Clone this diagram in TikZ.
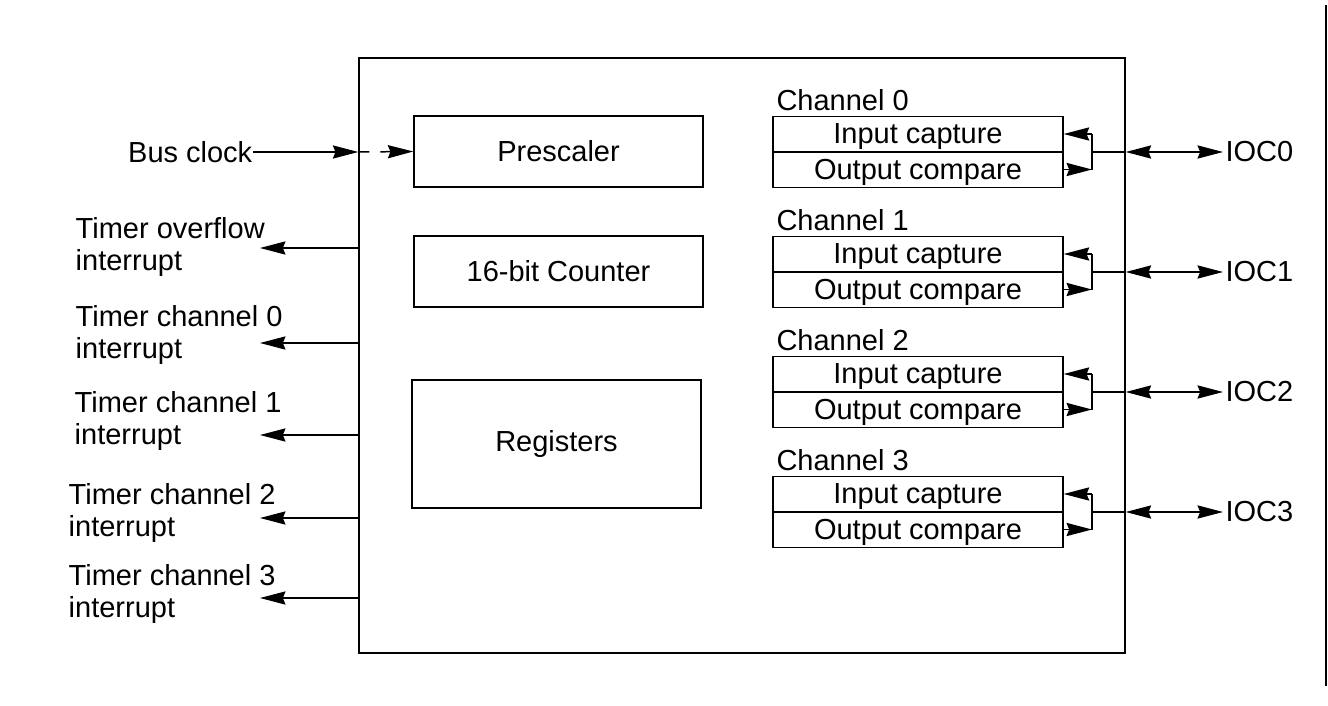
\documentclass[tikz,border=0pt]{standalone}
\usepackage{fontspec}
\setmainfont{Liberation Sans}
\usetikzlibrary{arrows.meta,calc,positioning}

\begin{document}
\begin{tikzpicture}[
  x=0.02cm, y=-0.02cm,
  font=\fontsize{16.5}{18}\selectfont,
  line width=0.85pt,
  hd/.tip={Stealth[length=14.5pt,width=7.5pt,inset=1.5pt]},
  box/.style={draw, inner sep=0pt, align=center},
  unit/.style={box, minimum width=5.78cm, minimum height=1.42cm},
  half/.style={box, minimum width=5.8cm, minimum height=0.71cm, text depth=0.5pt},
  lbl/.style={anchor=west, align=left, inner sep=0pt},
  arr/.style={-hd},
  arrboth/.style={hd-hd}
]
\useasboundingbox (0,0) rectangle (1328,706);
% outer block
\node[box, minimum width=15.32cm, minimum height=11.9cm] (main) at (742,355.5) {};
\node[unit] (pre) at (558.5,151.5) {Prescaler};
\node[unit] (cnt) at (558.5,271.5) {16-bit Counter};
\node[box, minimum width=5.78cm, minimum height=2.56cm] (reg) at (556.5,444) {Registers};

% clock input
\node[anchor=east, inner sep=0pt] (bus) at (253,152) {Bus clock};
\draw[arr] (bus.east) -- (main.west |- bus);
\draw[arr, dash pattern=on 6.25pt off 6.25pt] (main.west |- bus) -- (pre.west);

% interrupt outputs
\node[lbl] (tov) at (75,247) {Timer overflow\\interrupt};
\node[lbl] (tc0) at (75,335) {Timer channel 0\\interrupt};
\node[lbl] (tc1) at (74,421) {Timer channel 1\\interrupt};
\node[lbl] (tc2) at (68,513) {Timer channel 2\\interrupt};
\node[lbl] (tc3) at (68,594) {Timer channel 3\\interrupt};
\coordinate (itov) at (260,248);
\coordinate (itc0) at (260,343);
\coordinate (itc1) at (260,435);
\coordinate (itc2) at (260,518);
\coordinate (itc3) at (260,598);
\foreach \n in {itov,itc0,itc1,itc2,itc3}
  \draw[arr] (main.west |- \n) -- (\n);

% capture/compare channels
\foreach \i/\yy in {0/0,1/120,2/240,3/360} {
  \node[half] (ic\i) at (918,134+\yy) {Input capture};
  \node[half] (oc\i) at (918,169.5+\yy) {Output compare};
  \node[anchor=south west, inner sep=2pt] (ch\i) at (ic\i.north west) {Channel \i};
  \coordinate (j\i) at (1092,152+\yy);
  \node[anchor=west, inner sep=1pt] (ioc\i) at (1223,152+\yy) {IOC\i};
  \draw[arr] (j\i |- ic\i.east) -- (ic\i.east);
  \draw[arr] (oc\i.east) -- (j\i |- oc\i.east);
  \draw (j\i |- ic\i.east) -- (j\i |- oc\i.east);
  \draw (j\i) -- (main.east |- j\i);
  \draw[arrboth] (main.east |- j\i) -- (ioc\i.west);
}

% change bar
\draw[line width=1.5pt] (1326,5) -- (1326,686);
\end{tikzpicture}
\end{document}
